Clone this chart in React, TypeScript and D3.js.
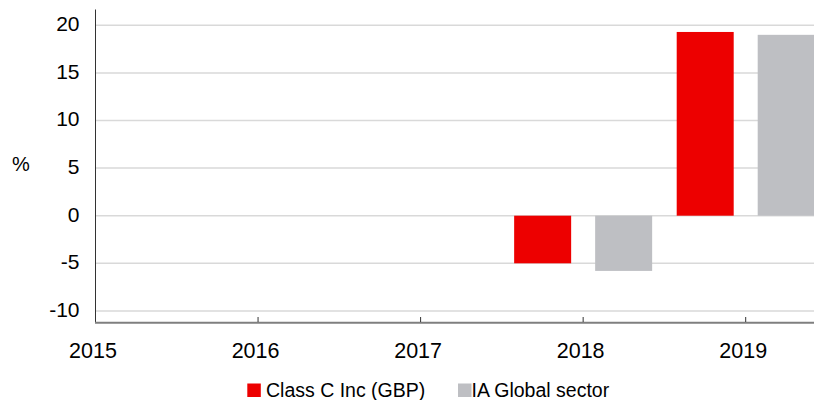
import React from "react";
import * as d3 from "d3";

const years = ["2015", "2016", "2017", "2018", "2019"];
const seriesNames = ["Class C Inc (GBP)", "IA Global sector"];
const classC: (number | null)[] = [null, null, null, -5.0, 19.3];
const iaGlobal: (number | null)[] = [null, null, null, -5.8, 19.0];
const yTicks = [-10, -5, 0, 5, 10, 15, 20];
const colors = ["#ED0000", "#BEBFC3"];

const W = 814;
const H = 400;
const FONT = "'Liberation Sans', Arial, sans-serif";

export default function App() {
  const x = d3.scalePoint<string>().domain(years).range([95.5, 745.7]);
  const inner = d3
    .scaleBand<string>()
    .domain(seriesNames)
    .range([-69, 69])
    .paddingInner(0.2963)
    .paddingOuter(0);
  const y = d3.scaleLinear().domain([-11.24, 21.66]).range([322.7, 9.5]);
  const series = [classC, iaGlobal];

  return (
    <div style={{ position: "fixed", left: 0, top: 0 }}>
      <svg width={W} height={H} style={{ display: "block", fontFamily: FONT }}>
        <rect width={W} height={H} fill="#fff" />
        {yTicks.map((t) => (
          <line
            key={"g" + t}
            x1={96}
            x2={W}
            y1={y(t)}
            y2={y(t)}
            stroke="#d9d9d9"
            strokeWidth={1.5}
          />
        ))}
        {series.map((vals, si) =>
          vals.map((v, i) => {
            if (v == null) return null;
            const x0 = (x(years[i]) as number) + (inner(seriesNames[si]) as number);
            const y0 = y(Math.max(0, v));
            const y1 = y(Math.min(0, v));
            return (
              <rect
                key={si + "-" + i}
                x={x0}
                y={y0}
                width={inner.bandwidth()}
                height={y1 - y0}
                fill={colors[si]}
              />
            );
          })
        )}
        {/* y axis */}
        <line x1={95.5} x2={95.5} y1={9.5} y2={323} stroke="#333" strokeWidth={1} />
        {yTicks.map((t) => (
          <text
            key={"yl" + t}
            x={79.5}
            y={y(t) - 1.5}
            dy="0.35em"
            textAnchor="end"
            fontSize={21}
            fill="#000"
          >
            {t}
          </text>
        ))}
        <text x={21} y={164} dy="0.35em" textAnchor="middle" fontSize={20} fill="#000">
          %
        </text>
        {/* x axis */}
        <line x1={95} x2={W} y1={322.7} y2={322.7} stroke="#7f7f7f" strokeWidth={2} />
        {years.slice(1).map((yr) => (
          <line
            key={"xt" + yr}
            x1={x(yr) as number}
            x2={x(yr) as number}
            y1={317}
            y2={322}
            stroke="#333"
            strokeWidth={1}
          />
        ))}
        {years.map((yr) => (
          <text
            key={"xl" + yr}
            x={(x(yr) as number) - 2.5}
            y={357.5}
            textAnchor="middle"
            fontSize={21.5}
            fill="#000"
          >
            {yr}
          </text>
        ))}
        {/* legend */}
        <rect x={247.3} y={383.5} width={13.5} height={13.5} fill={colors[0]} />
        <text x={266} y={396.8} fontSize={19.5} fill="#000">
          {seriesNames[0]}
        </text>
        <rect x={458} y={383.5} width={13.5} height={13.5} fill={colors[1]} />
        <text x={471.5} y={396.8} fontSize={19.5} fill="#000">
          {seriesNames[1]}
        </text>
      </svg>
    </div>
  );
}
